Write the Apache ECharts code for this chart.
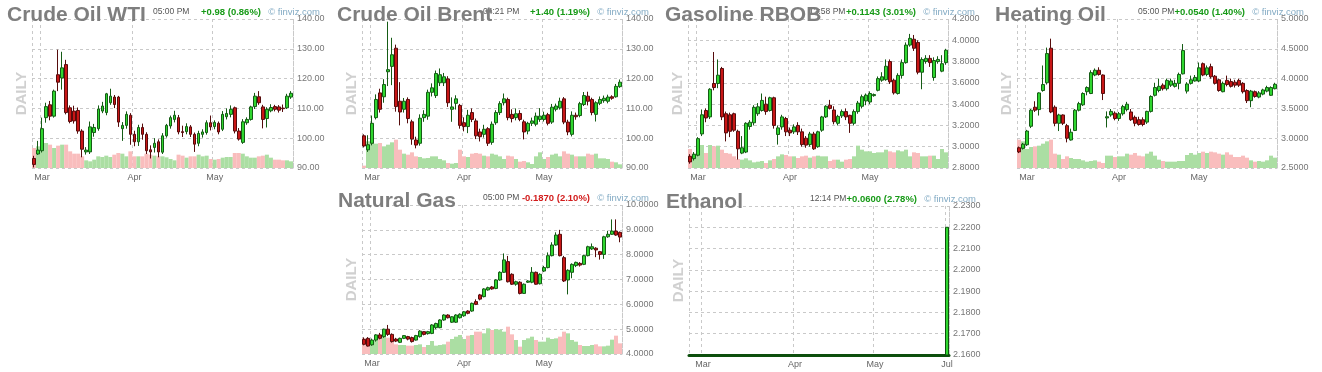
<!DOCTYPE html>
<html><head><meta charset="utf-8">
<script src="https://cdn.jsdelivr.net/npm/echarts@6/dist/echarts.min.js"></script>
<style>html,body{margin:0;padding:0;background:#fff}#c{width:1322px;height:372px}</style>
</head><body><div id="c"></div>
<script>
// ---------------- DATA ----------------
const datesMain = ['2022-02-25','2022-02-28',
'2022-03-01','2022-03-02','2022-03-03','2022-03-04','2022-03-07','2022-03-08','2022-03-09','2022-03-10','2022-03-11',
'2022-03-14','2022-03-15','2022-03-16','2022-03-17','2022-03-18','2022-03-21','2022-03-22','2022-03-23','2022-03-24','2022-03-25',
'2022-03-28','2022-03-29','2022-03-30','2022-03-31',
'2022-04-01','2022-04-04','2022-04-05','2022-04-06','2022-04-07','2022-04-08','2022-04-11','2022-04-12','2022-04-13','2022-04-14',
'2022-04-18','2022-04-19','2022-04-20','2022-04-21','2022-04-22','2022-04-25','2022-04-26','2022-04-27','2022-04-28','2022-04-29',
'2022-05-02','2022-05-03','2022-05-04','2022-05-05','2022-05-06','2022-05-09','2022-05-10','2022-05-11','2022-05-12','2022-05-13',
'2022-05-16','2022-05-17','2022-05-18','2022-05-19','2022-05-20','2022-05-23','2022-05-24','2022-05-25','2022-05-26','2022-05-27'];

const datesEthanol = ['2022-02-24','2022-02-25','2022-02-28',
'2022-03-01','2022-03-02','2022-03-03','2022-03-04','2022-03-07','2022-03-08','2022-03-09','2022-03-10','2022-03-11',
'2022-03-14','2022-03-15','2022-03-16','2022-03-17','2022-03-18','2022-03-21','2022-03-22','2022-03-23','2022-03-24','2022-03-25',
'2022-03-28','2022-03-29','2022-03-30','2022-03-31',
'2022-04-01','2022-04-04','2022-04-05','2022-04-06','2022-04-07','2022-04-08','2022-04-11','2022-04-12','2022-04-13','2022-04-14',
'2022-04-18','2022-04-19','2022-04-20','2022-04-21','2022-04-22','2022-04-25','2022-04-26','2022-04-27','2022-04-28','2022-04-29',
'2022-05-02','2022-05-03','2022-05-04','2022-05-05','2022-05-06','2022-05-09','2022-05-10','2022-05-11','2022-05-12','2022-05-13',
'2022-05-16','2022-05-17','2022-05-18','2022-05-19','2022-05-20','2022-05-23','2022-05-24','2022-05-25','2022-07-01'];

// [open, close, low, high]
const wtiOHLC = [
[93.2,91.2,90.2,94.1],[94.7,96.0,94.4,99.1],[95.8,103.2,95.2,106.9],[106.9,110.6,105.2,111.9],[111.2,107.4,106.0,112.5],
[107.4,115.8,106.9,116.3],[121.3,118.8,115.8,129.7],[120.2,123.6,116.3,129.0],[124.7,108.6,108.0,126.3],[110.2,105.6,105.0,111.0],
[109.1,105.8,104.9,110.9],[109.3,102.4,101.5,110.3],[102.4,96.3,93.6,103.0],[95.4,96.0,94.5,97.0],[95.4,103.8,94.7,105.6],
[101.9,103.6,100.5,104.8],[103.2,109.8,102.5,111.0],[109.1,110.8,108.4,112.2],[108.6,114.9,107.7,115.2],[111.9,114.1,111.2,116.6],
[113.8,111.3,110.1,114.5],[113.8,105.4,103.8,114.2],[103.2,104.3,99.1,105.4],[104.3,108.0,103.2,109.0],[107.7,101.3,97.8,108.4],
[101.3,98.8,97.3,102.5],[98.8,103.6,97.4,104.5],[103.6,101.3,99.5,104.9],[101.3,95.8,94.7,102.0],[96.1,95.4,93.2,97.6],
[96.9,98.3,95.2,100.0],[98.8,95.4,93.6,99.6],[95.3,100.8,94.7,101.7],[100.8,104.3,100.2,104.8],[104.1,106.9,103.2,107.6],
[106.3,107.7,105.3,109.2],[106.9,102.1,101.3,107.8],[102.2,101.9,100.4,104.2],[102.2,103.9,101.3,105.0],[103.8,101.3,100.4,104.4],
[101.3,98.0,95.4,101.9],[98.3,101.6,97.3,102.5],[101.3,102.1,100.2,103.0],[101.9,105.2,101.2,106.0],[105.2,103.8,102.6,107.6],
[103.9,105.3,103.0,106.0],[105.0,102.1,101.3,105.6],[103.0,108.0,102.4,109.1],[107.2,108.3,106.3,110.0],[108.0,109.7,107.0,111.0],
[110.2,102.4,101.6,110.6],[102.4,99.7,99.2,103.4],[98.6,105.5,98.1,106.4],[105.2,106.3,104.5,107.0],[106.3,110.5,105.9,110.9],
[110.6,114.1,109.8,115.2],[113.9,111.9,111.2,115.8],[110.5,106.3,103.3,111.2],[106.6,109.7,103.6,110.4],[109.2,110.3,108.7,111.4],
[110.6,109.7,109.0,111.2],[110.5,109.4,108.6,111.1],[110.1,109.9,108.8,111.3],[110.2,114.1,109.8,114.9],[113.8,115.07,113.2,115.8]];
const wtiVolume = [60,65,80,75,70,60,67,70,70,50, 43,43,35,23,20,25,35,33,37,33, 40,45,43,35,50,35,35,35,43,40,
37,35,35,32,27,23,40,37,31,35, 35,40,35,37,27,25,27,31,33,33, 45,45,43,35,31,31,35,37,40,31, 25,25,23,23,20];

const brentOHLC = [
[100.8,97.4,96.9,101.3],[96.1,97.8,95.4,101.0],[98.3,105.0,97.6,107.6],[106.9,113.0,106.3,114.7],[115.2,109.7,108.6,116.6],
[113.9,118.0,111.9,119.8],[122.3,123.0,117.5,139.1],[124.1,128.0,117.8,133.7],[130.2,110.6,108.9,131.4],[112.4,108.8,104.3,118.8],
[109.7,112.4,108.6,113.5],[113.0,106.6,105.0,113.7],[105.5,99.7,97.8,106.2],[99.4,97.7,96.6,100.5],[98.3,106.7,97.5,108.0],
[106.9,108.0,105.5,109.4],[107.4,115.4,106.2,116.3],[115.4,116.9,114.0,118.4],[114.3,121.7,113.5,122.7],[118.6,121.3,117.5,123.4],
[118.6,120.6,117.5,121.9],[119.9,111.9,110.5,120.8],[109.7,110.5,105.5,113.7],[111.7,113.2,109.6,114.4],[111.0,104.3,103.2,111.5],
[105.2,103.9,102.3,107.0],[103.9,107.7,101.7,109.5],[108.6,106.3,105.4,110.0],[105.8,100.8,99.7,106.6],[102.1,100.5,98.9,103.2],
[101.3,103.0,100.2,104.5],[103.2,98.3,97.4,103.7],[98.6,104.7,97.8,105.6],[105.2,108.6,104.5,109.4],[108.6,111.6,107.8,112.4],
[111.9,113.2,111.0,115.0],[113.0,106.9,106.0,113.6],[108.0,106.6,105.3,109.7],[106.9,108.2,106.0,110.0],[108.3,106.3,105.7,109.4],
[105.5,102.1,99.6,106.2],[102.4,105.0,101.3,105.5],[105.0,105.8,104.1,106.9],[104.7,107.4,104.0,108.6],[106.3,107.4,105.5,110.1],
[106.3,107.7,105.6,108.9],[107.9,105.0,104.3,108.5],[105.4,110.4,104.8,111.5],[109.7,110.8,109.0,111.6],[110.2,112.4,109.6,113.6],
[113.2,105.4,104.7,113.8],[105.4,102.1,101.0,106.2],[101.3,107.7,100.6,109.0],[107.7,107.2,106.2,108.6],[107.6,111.6,107.0,112.2],
[111.3,114.3,110.8,115.5],[114.1,112.4,111.0,115.6],[113.0,108.6,107.7,113.6],[108.0,111.9,105.6,112.4],[111.7,113.0,111.1,114.0],
[112.6,113.4,111.9,114.3],[112.4,113.8,111.7,114.6],[113.9,113.4,112.9,114.4],[113.9,117.4,113.6,118.2],[117.3,118.8,116.9,119.7]];
const brentVolume = [7,80,77,73,75,65,70,77,85,55, 43,40,47,35,33,29,30,35,35,27, 23,15,13,15,55,35,33,43,45,43,
37,35,43,40,35,27,37,35,27,19, 21,17,12,35,47,27,33,40,43,35, 50,43,40,35,35,35,43,40,43,29, 29,27,19,17,11];

const gasolineOHLC = [
[2.910,2.857,2.840,2.930],[2.888,2.929,2.870,2.950],[2.920,3.076,2.910,3.090],[3.120,3.300,3.100,3.350],[3.340,3.270,3.230,3.360],
[3.280,3.540,3.260,3.550],[3.594,3.556,3.530,3.890],[3.594,3.672,3.550,3.820],[3.735,3.280,3.250,3.750],[3.310,3.130,3.050,3.330],
[3.300,3.145,3.090,3.320],[3.310,3.155,3.140,3.320],[3.145,2.980,2.880,3.160],[2.940,2.990,2.930,3.100],[2.950,3.220,2.940,3.230],
[3.190,3.230,3.160,3.250],[3.225,3.370,3.200,3.390],[3.310,3.375,3.290,3.410],[3.340,3.435,3.330,3.500],[3.400,3.330,3.300,3.470],
[3.340,3.460,3.330,3.470],[3.460,3.200,3.170,3.470],[3.115,3.177,3.020,3.200],[3.186,3.280,3.160,3.300],[3.265,3.140,3.100,3.280],
[3.155,3.130,3.100,3.180],[3.140,3.186,3.120,3.210],[3.200,3.140,3.110,3.230],[3.140,3.020,3.000,3.170],[3.080,3.015,2.990,3.100],
[3.020,3.120,3.000,3.140],[3.120,2.980,2.970,3.140],[3.000,3.140,2.990,3.150],[3.155,3.280,3.140,3.290],[3.280,3.380,3.270,3.390],
[3.390,3.360,3.350,3.440],[3.345,3.235,3.210,3.380],[3.220,3.285,3.200,3.300],[3.290,3.330,3.270,3.350],[3.330,3.280,3.250,3.360],
[3.295,3.220,3.130,3.300],[3.220,3.330,3.200,3.350],[3.330,3.410,3.310,3.430],[3.380,3.470,3.360,3.490],[3.430,3.485,3.390,3.500],
[3.420,3.500,3.400,3.520],[3.480,3.490,3.470,3.500],[3.530,3.640,3.520,3.660],[3.625,3.657,3.610,3.700],[3.630,3.756,3.620,3.820],
[3.800,3.610,3.590,3.820],[3.625,3.506,3.490,3.640],[3.500,3.670,3.490,3.690],[3.670,3.790,3.640,3.820],[3.790,3.955,3.780,3.980],
[3.955,4.018,3.940,4.060],[4.010,3.925,3.900,4.050],[3.980,3.700,3.680,4.000],[3.700,3.820,3.540,3.840],[3.800,3.830,3.780,3.860],
[3.830,3.790,3.750,3.860],[3.650,3.810,3.620,3.840],[3.800,3.820,3.780,3.850],[3.710,3.780,3.700,3.860],[3.790,3.9067,3.770,3.920]];
const gasolineVolume = [57,43,65,69,45,69,65,67,55,45, 43,35,27,25,29,23,17,19,21,15, 23,27,35,41,39,35,35,30,35,37,
31,35,37,35,35,21,25,25,19,25, 27,35,67,55,50,50,45,47,47,55, 50,47,53,50,55,35,47,45,35,35, 37,37,27,57,47];

const heatingOHLC = [
[2.84,2.77,2.75,2.86],[2.83,2.90,2.81,2.92],[2.89,3.12,2.87,3.14],[3.20,3.47,3.17,3.49],[3.52,3.47,3.44,3.62],
[3.48,3.76,3.38,3.77],[3.80,3.90,3.78,4.22],[3.93,4.42,3.90,4.52],[4.51,3.44,3.42,4.67],[3.52,3.25,3.20,3.55],
[3.25,3.39,3.12,3.41],[3.39,3.25,3.22,3.40],[3.21,3.00,2.93,3.24],[2.97,3.10,2.96,3.16],[3.13,3.47,3.12,3.49],
[3.47,3.58,3.45,3.61],[3.56,3.75,3.54,3.77],[3.78,3.85,3.72,3.87],[3.75,4.10,3.74,4.14],[4.06,4.14,4.04,4.17],
[4.14,4.07,4.05,4.19],[4.06,3.75,3.64,4.07],[3.34,3.36,3.18,3.45],[3.39,3.45,3.36,3.49],[3.42,3.33,3.30,3.45],
[3.33,3.41,3.29,3.44],[3.41,3.53,3.38,3.56],[3.48,3.57,3.45,3.61],[3.44,3.31,3.29,3.49],[3.35,3.25,3.20,3.38],
[3.31,3.23,3.21,3.36],[3.31,3.23,3.20,3.35],[3.27,3.45,3.24,3.46],[3.45,3.70,3.43,3.72],[3.72,3.85,3.70,3.93],
[3.80,3.87,3.77,4.00],[3.89,3.83,3.80,3.92],[3.83,3.97,3.80,4.00],[3.89,3.96,3.86,4.00],[3.87,3.92,3.85,3.98],
[3.92,4.07,3.82,4.10],[4.08,4.47,4.07,4.58],[3.79,3.91,3.75,3.94],[3.92,3.98,3.90,4.05],[3.96,4.02,3.95,4.06],
[3.96,4.18,3.94,4.27],[4.25,4.06,4.04,4.27],[4.07,4.18,4.04,4.22],[4.20,4.03,4.00,4.25],[4.04,3.92,3.90,4.06],
[3.98,3.80,3.78,4.00],[3.78,3.92,3.77,3.95],[3.97,3.90,3.87,4.05],[3.95,3.87,3.85,4.00],[3.94,3.89,3.85,3.98],
[3.97,3.89,3.86,4.00],[3.92,3.78,3.75,3.94],[3.80,3.63,3.59,3.82],[3.63,3.79,3.52,3.81],[3.78,3.70,3.68,3.80],
[3.69,3.76,3.67,3.79],[3.74,3.81,3.72,3.83],[3.79,3.85,3.77,3.88],[3.72,3.85,3.71,3.87],[3.83,3.9045,3.82,3.93]];
const heatingVolume = [85,80,57,63,65,67,73,80,85,43, 40,27,35,30,27,27,23,19,21,23, 19,15,37,37,33,35,35,43,40,45,
37,35,43,49,37,25,21,19,19,19, 21,21,39,45,40,45,49,45,49,47, 43,40,47,40,33,33,37,31,23,19, 21,19,23,37,31];

const natgasOHLC = [
[4.59,4.39,4.35,4.67],[4.63,4.32,4.30,4.68],[4.37,4.56,4.33,4.62],[4.56,4.77,4.50,4.80],[4.77,4.63,4.59,4.85],
[4.70,5.00,4.65,5.02],[5.00,4.79,4.73,5.17],[4.79,4.50,4.46,4.83],[4.60,4.52,4.48,4.65],[4.47,4.63,4.44,4.66],
[4.63,4.74,4.60,4.76],[4.70,4.60,4.55,4.73],[4.66,4.50,4.46,4.70],[4.56,4.74,4.54,4.77],[4.70,4.92,4.66,4.96],
[4.90,4.79,4.75,4.92],[4.82,4.90,4.78,4.93],[4.83,5.17,4.80,5.20],[5.06,5.23,5.00,5.26],[5.06,5.37,5.04,5.40],
[5.37,5.57,5.34,5.60],[5.57,5.46,5.43,5.60],[5.28,5.50,5.25,5.52],[5.28,5.57,5.25,5.60],[5.46,5.60,5.43,5.64],
[5.54,5.70,5.50,5.73],[5.73,5.64,5.60,5.76],[5.73,6.04,5.70,6.07],[6.11,6.00,5.97,6.20],[6.38,6.21,6.16,6.42],
[6.31,6.62,6.28,6.65],[6.58,6.67,6.55,6.71],[6.70,6.62,6.59,6.74],[6.64,6.98,6.61,7.01],[6.98,7.29,6.95,7.33],
[7.29,7.79,7.27,8.05],[7.72,6.91,6.88,7.95],[7.21,6.81,6.78,7.25],[6.81,6.91,6.75,6.95],[6.89,6.44,6.40,6.93],
[6.44,6.81,6.42,6.84],[6.89,6.94,6.86,6.97],[6.89,7.29,6.85,7.50],[7.29,6.81,6.79,7.32],[6.83,7.21,6.80,7.25],
[7.34,7.48,7.30,7.55],[7.48,7.96,7.45,8.09],[7.96,8.39,7.93,8.50],[8.39,8.79,8.36,8.90],[8.82,7.96,7.93,9.00],
[7.88,6.94,6.90,7.95],[6.98,7.37,6.40,7.41],[7.29,7.61,7.05,7.65],[7.56,7.69,7.50,7.72],[7.65,7.58,7.52,7.70],
[7.61,7.96,7.58,8.00],[7.96,8.32,7.93,8.36],[8.23,8.32,8.19,8.45],[8.26,8.19,7.90,8.30],[8.12,8.01,7.80,8.15],
[8.01,8.72,7.83,8.76],[8.72,8.82,8.68,8.96],[8.82,8.95,8.80,9.42],[8.95,8.79,8.76,9.42],[8.90,8.708,8.50,8.93]];
const natgasVolume = [47,45,39,41,45,52,49,37,29,27, 27,25,25,27,29,21,27,39,25,27, 29,37,45,52,57,45,55,57,67,67,
62,77,72,75,73,67,82,59,42,22, 42,47,52,42,37,37,49,45,47,52, 67,62,42,37,27,24,24,27,29,23, 23,25,43,55,32];

const ethanolOHLC = [
[2.16,2.16,2.16,2.16],[2.16,2.16,2.16,2.16],[2.16,2.16,2.16,2.16],[2.16,2.16,2.16,2.16],[2.16,2.16,2.16,2.16],
[2.16,2.16,2.16,2.16],[2.16,2.16,2.16,2.16],[2.16,2.16,2.16,2.16],[2.16,2.16,2.16,2.16],[2.16,2.16,2.16,2.16],
[2.16,2.16,2.16,2.16],[2.16,2.16,2.16,2.16],[2.16,2.16,2.16,2.16],[2.16,2.16,2.16,2.16],[2.16,2.16,2.16,2.16],
[2.16,2.16,2.16,2.16],[2.16,2.16,2.16,2.16],[2.16,2.16,2.16,2.16],[2.16,2.16,2.16,2.16],[2.16,2.16,2.16,2.16],
[2.16,2.16,2.16,2.16],[2.16,2.16,2.16,2.16],[2.16,2.16,2.16,2.16],[2.16,2.16,2.16,2.16],[2.16,2.16,2.16,2.16],
[2.16,2.16,2.16,2.16],[2.16,2.16,2.16,2.16],[2.16,2.16,2.16,2.16],[2.16,2.16,2.16,2.16],[2.16,2.16,2.16,2.16],
[2.16,2.16,2.16,2.16],[2.16,2.16,2.16,2.16],[2.16,2.16,2.16,2.16],[2.16,2.16,2.16,2.16],[2.16,2.16,2.16,2.16],
[2.16,2.16,2.16,2.16],[2.16,2.16,2.16,2.16],[2.16,2.16,2.16,2.16],[2.16,2.16,2.16,2.16],[2.16,2.16,2.16,2.16],
[2.16,2.16,2.16,2.16],[2.16,2.16,2.16,2.16],[2.16,2.16,2.16,2.16],[2.16,2.16,2.16,2.16],[2.16,2.16,2.16,2.16],
[2.16,2.16,2.16,2.16],[2.16,2.16,2.16,2.16],[2.16,2.16,2.16,2.16],[2.16,2.16,2.16,2.16],[2.16,2.16,2.16,2.16],
[2.16,2.16,2.16,2.16],[2.16,2.16,2.16,2.16],[2.16,2.16,2.16,2.16],[2.16,2.16,2.16,2.16],[2.16,2.16,2.16,2.16],
[2.16,2.16,2.16,2.16],[2.16,2.16,2.16,2.16],[2.16,2.16,2.16,2.16],[2.16,2.16,2.16,2.16],[2.16,2.16,2.16,2.16],
[2.16,2.16,2.16,2.16],[2.16,2.16,2.16,2.16],[2.16,2.16,2.16,2.16],[2.16,2.16,2.16,2.16],[2.16,2.22,2.16,2.22]];

const wtiTicks = [90,100,110,120,130,140];
const brentTicks = [90,100,110,120,130,140];
const gasolineTicks = [2.8,3.0,3.2,3.4,3.6,3.8,4.0,4.2];
const heatingTicks = [2.5,3.0,3.5,4.0,4.5,5.0];
const natgasTicks = [4,5,6,7,8,9,10];
const ethanolTicks = [2.16,2.17,2.18,2.19,2.20,2.21,2.22,2.23];

const monthNames = ['Jan','Feb','Mar','Apr','May','Jun','Jul','Aug','Sep','Oct','Nov','Dec'];

// ---------------- LAYOUT / STYLE ----------------
const FONT = '"Liberation Sans", Arial, sans-serif';
const panels = [
 {title:'Crude Oil WTI', time:'05:00 PM', change:'+0.98 (0.86%)', up:true, ohlc:wtiOHLC, vol:wtiVolume, dates:datesMain, ticks:wtiTicks, dec:2, tx:7, l:32, r:293, t:19, b:168},
 {title:'Crude Oil Brent', time:'04:21 PM', change:'+1.40 (1.19%)', up:true, ohlc:brentOHLC, vol:brentVolume, dates:datesMain, ticks:brentTicks, dec:2, tx:337, l:362, r:622, t:19, b:168},
 {title:'Gasoline RBOB', time:'12:58 PM', change:'+0.1143 (3.01%)', up:true, ohlc:gasolineOHLC, vol:gasolineVolume, dates:datesMain, ticks:gasolineTicks, dec:4, tx:665, l:688, r:948, t:19, b:168},
 {title:'Heating Oil', time:'05:00 PM', change:'+0.0540 (1.40%)', up:true, ohlc:heatingOHLC, vol:heatingVolume, dates:datesMain, ticks:heatingTicks, dec:4, tx:995, l:1017, r:1277, t:19, b:168},
 {title:'Natural Gas', time:'05:00 PM', change:'-0.1870 (2.10%)', up:false, ohlc:natgasOHLC, vol:natgasVolume, dates:datesMain, ticks:natgasTicks, dec:4, tx:338, l:362, r:622, t:205, b:354},
 {title:'Ethanol', time:'12:14 PM', change:'+0.0600 (2.78%)', up:true, ohlc:ethanolOHLC, vol:null, dates:datesEthanol, ticks:ethanolTicks, dec:4, tx:666, l:689, r:949, t:206, b:355, flat:true}
];

const GRID_COLOR = '#c9c9c9';
const DASH = [3,3];
const UP = '#2fd62f', DOWN = '#c81616', UP_B = '#155c15', DOWN_B = '#560c0c';
const FLAT_LINE = '#0d4f0d';
const VOL_UP = '#abdea3', VOL_DOWN = '#f9bdbd';

function isMonthStart(dates, i){
  if (i <= 0 || i >= dates.length) return false;
  return dates[i].slice(5,7) !== dates[i-1].slice(5,7);
}

const grid = [], xAxis = [], yAxis = [], series = [], graphic = [];
panels.forEach((p, i) => {
  grid.push({left:p.l, top:p.t, width:p.r - p.l, height:p.b - p.t, containLabel:false, outerBoundsMode:'none'});
  const dates = p.dates;
  xAxis.push({
    gridIndex:i, type:'category', data:dates, boundaryGap:true,
    axisLine: p.flat ? {show:true, lineStyle:{color:FLAT_LINE, width:3}} : {show:false},
    axisTick:{show:false},
    axisLabel:{
      interval:(idx) => isMonthStart(dates, idx),
      formatter:(v) => monthNames[parseInt(v.slice(5,7),10)-1],
      color:'#666', fontSize:9, margin:5, fontFamily:FONT
    },
    splitLine:{show:true, interval:(idx) => idx === 0 || isMonthStart(dates, idx), lineStyle:{color:GRID_COLOR, type:DASH, width:1}}
  });
  const tk = p.ticks;
  const interval = +(tk[1]-tk[0]).toFixed(6);
  yAxis.push({
    gridIndex:i, type:'value', position:'right', min:tk[0], max:tk[tk.length-1], interval:interval,
    axisLine:{show:true, lineStyle:{color:GRID_COLOR, type:DASH, width:1}},
    axisTick:{show:false},
    axisLabel:{color:'#777', fontSize:9, margin:4, fontFamily:FONT, formatter:(v) => v.toFixed(p.dec)},
    splitLine:{show:true, lineStyle:{color:GRID_COLOR, type:DASH, width:1}}
  });
  yAxis.push({gridIndex:i, type:'value', min:0, max:447, show:false, splitLine:{show:false}});

  if (p.vol) {
    series.push({
      type:'bar', xAxisIndex:i, yAxisIndex:2*i+1, barWidth:'100%', silent:true, z:1,
      data:p.vol.map((v,k) => ({value:v, itemStyle:{color: p.ohlc[k][1] >= p.ohlc[k][0] ? VOL_UP : VOL_DOWN}}))
    });
  }
  const last = p.ohlc[p.ohlc.length-1][1];
  series.push({
    type:'candlestick', xAxisIndex:i, yAxisIndex:2*i, data:p.ohlc, z:3,
    barWidth:3, clip:!p.flat, silent:true,
    itemStyle: p.flat
      ? {color:UP, color0:UP, borderColor:FLAT_LINE, borderColor0:FLAT_LINE, borderColorDoji:FLAT_LINE, borderWidth:1}
      : {color:UP, color0:DOWN, borderColor:UP_B, borderColor0:DOWN_B, borderColorDoji:UP_B, borderWidth:1},
    markLine:{
      silent:true, symbol:['none','none'], animation:false,
      lineStyle:{opacity:0, width:0},
      label:{show:true, position:'end', distance:-3, formatter:() => last.toFixed(p.dec),
        backgroundColor:'#ffff33', color:'#333', fontSize:9, fontFamily:FONT, padding:[2,2,1,2], borderRadius:2},
      emphasis:{disabled:true},
      data:[{yAxis:last}]
    }
  });

  // header texts
  graphic.push({type:'text', x:p.l + 121, y:p.t - 7, z:10, silent:true,
    style:{text:p.time, fill:'#555', fontSize:8.5, fontFamily:FONT, align:'left', verticalAlign:'middle'}});
  graphic.push({type:'text', x:p.r - 32, y:p.t - 7, z:10, silent:true,
    style:{text:p.change, fill:p.up ? '#179a17' : '#d21c1c', fontSize:9.5, fontWeight:'bold', fontFamily:FONT, align:'right', verticalAlign:'middle'}});
  graphic.push({type:'text', x:p.r + 27, y:p.t - 7, z:10, silent:true,
    style:{text:'\u00a9 finviz.com', fill:'#83abc4', fontSize:9.5, fontFamily:FONT, align:'right', verticalAlign:'middle'}});
  graphic.push({type:'text', x:p.tx, y:p.t - 4, z:12, silent:true,
    style:{text:p.title, fill:'#7e7e7e', fontSize:21, fontWeight:'bold', fontFamily:FONT, align:'left', verticalAlign:'middle'}});
  graphic.push({type:'text', x:p.l - 10.5, y:(p.t + p.b)/2, rotation:Math.PI/2, z:10, silent:true,
    style:{text:'DAILY', fill:'#d0d0d0', fontSize:15, fontWeight:'bold', fontFamily:FONT, align:'center', verticalAlign:'middle'}});
});

const chart = echarts.init(document.getElementById('c'), null, {renderer:'canvas'});
chart.setOption({
  animation:false,
  backgroundColor:'#ffffff',
  textStyle:{fontFamily:FONT},
  grid, xAxis, yAxis, series, graphic
});
</script>
</body></html>
